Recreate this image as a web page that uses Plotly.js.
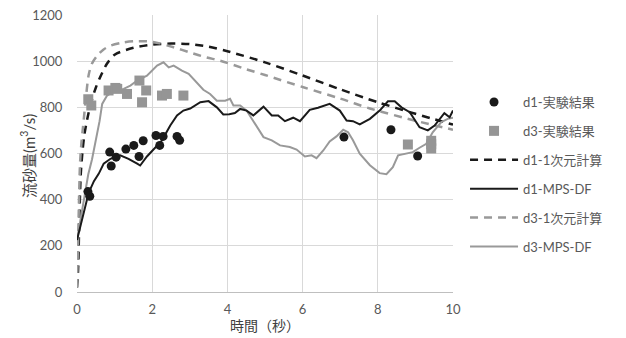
<!DOCTYPE html>
<html><head><meta charset="utf-8">
<script src="https://cdn.plot.ly/plotly-3.0.1.min.js"></script>
<style>html,body{margin:0;padding:0;background:#fff}#chart{width:626px;height:338px}</style>
</head><body><div id="chart"></div>
<script>
// Experimental results
const d1ExpT = [0.29,0.34,0.87,0.91,1.04,1.30,1.51,1.65,1.76,2.10,2.20,2.29,2.66,2.73,7.10,8.35,9.06];
const d1ExpV = [435,415,606,546,584,619,635,587,655,678,635,674,674,657,671,703,589];
const d3ExpT = [0.30,0.38,0.84,1.02,1.07,1.33,1.66,1.73,1.84,2.26,2.39,2.83,8.80,9.42,9.42,9.42];
const d3ExpV = [835,808,873,884,880,858,916,822,873,851,858,851,639,655,640,622];
// 1D calculations
const d1OneDT = [0,0.03,0.06,0.1,0.15,0.2,0.3,0.4,0.5,0.6,0.8,1.0,1.5,2.0,2.5,3.0,3.5,4.0,5.0,6.0,7.0,8.0,9.0,10.0];
const d1OneDV = [20,100,300,510,615,685,770,835,885,925,990,1028,1058,1072,1076,1074,1063,1043,995,938,878,822,772,725];
const d3OneDT = [0,0.04,0.08,0.12,0.16,0.23,0.31,0.4,0.54,0.7,0.89,1.2,1.51,1.86,2.2,2.57,3.0,3.45,3.81,4.5,5.0,6.02,7.0,7.79,9.0,10.0];
const d3OneDV = [20,300,555,650,715,829,940,990,1024,1050,1067,1080,1086,1086,1077,1060,1038,1016,1002,965,940,887,838,795,742,703];
// MPS-DF
const d1MpsT = [0,0.15,0.31,0.45,0.58,0.71,0.89,1.15,1.37,1.60,1.68,1.86,2.04,2.26,2.48,2.66,2.83,3.01,3.28,3.50,3.72,3.89,4.05,4.20,4.34,4.51,4.69,4.96,5.18,5.35,5.53,5.75,5.93,6.19,6.41,6.72,6.99,7.17,7.34,7.52,7.79,8.05,8.27,8.45,8.63,8.85,9.11,9.33,9.51,9.77,9.91,10.0];
const d1MpsV = [225,330,430,480,513,556,577,592,577,556,548,587,620,657,721,765,786,795,822,827,800,769,770,775,793,786,765,803,765,765,740,755,740,789,798,815,786,743,740,726,750,786,826,826,800,779,714,700,721,775,757,786];
const d3MpsT = [0,0.1,0.2,0.3,0.4,0.5,0.6,0.67,0.8,0.98,1.24,1.42,1.60,1.86,2.13,2.30,2.44,2.57,2.79,2.97,3.19,3.36,3.54,3.72,3.94,4.07,4.16,4.34,4.51,4.78,4.96,5.18,5.40,5.66,5.84,6.06,6.24,6.37,6.55,6.72,6.90,7.08,7.21,7.34,7.52,7.79,8.05,8.23,8.40,8.54,8.71,8.93,9.11,9.29,9.46,9.69,9.86,10.0];
const d3MpsV = [225,320,420,510,575,650,740,815,851,870,880,894,916,937,981,995,973,981,959,945,908,876,858,829,829,837,808,808,786,714,671,657,635,628,617,587,592,580,613,652,674,703,692,657,599,549,515,510,541,592,599,606,625,642,692,736,750,755];

const xTicks = [0,2,4,6,8,10];
const yTicks = [0,200,400,600,800,1000,1200];
const yTitle = '流砂量(m<sup>3</sup>/s)';
const xTitle = '時間（秒）';

const BLACK = '#1a1a1a', GRAY = '#999999';
const FONT = 'Lato, "Noto Sans CJK JP", sans-serif';

const traces = [
  {x:d1OneDT,y:d1OneDV,name:'d1-1次元計算',mode:'lines',line:{color:BLACK,width:2.5,dash:'8px,6px',shape:'spline',smoothing:0.8},legendrank:3,legendgroup:'c'},
  {x:d3OneDT,y:d3OneDV,name:'d3-1次元計算',mode:'lines',line:{color:GRAY,width:2.5,dash:'8px,6px',shape:'spline',smoothing:0.8},legendrank:5,legendgroup:'e'},
  {x:d3MpsT,y:d3MpsV,name:'d3-MPS-DF',mode:'lines',line:{color:GRAY,width:2},legendrank:6,legendgroup:'f'},
  {x:d1MpsT,y:d1MpsV,name:'d1-MPS-DF',mode:'lines',line:{color:BLACK,width:2},legendrank:4,legendgroup:'d'},
  {x:d3ExpT,y:d3ExpV,name:'d3-実験結果',mode:'markers',marker:{symbol:'square',color:'#959595',size:10},legendrank:2,legendgroup:'b'},
  {x:d1ExpT,y:d1ExpV,name:'d1-実験結果',mode:'markers',marker:{symbol:'circle',color:BLACK,size:9},legendrank:1,legendgroup:'a'}
];

const layout = {
  width:626, height:338,
  margin:{l:76.5,r:172.5,t:14.5,b:46},
  paper_bgcolor:'#fff', plot_bgcolor:'#fff',
  font:{family:FONT,size:13,color:'#595959'},
  showlegend:true,
  legend:{x:1.032,xanchor:'left',xref:'paper',y:0.74,yanchor:'top',itemwidth:48,tracegroupgap:9,
          font:{family:FONT,size:13,color:'#595959'},bgcolor:'rgba(0,0,0,0)'},
  xaxis:{range:[0,10],tickvals:xTicks,ticktext:xTicks.map(String),showgrid:true,gridcolor:'#d9d9d9',gridwidth:1,
         zeroline:false,showline:true,linecolor:'#bfbfbf',linewidth:1,
         ticks:'outside',ticklen:5,tickcolor:'rgba(0,0,0,0)',
         title:{text:xTitle,font:{family:FONT,size:14,color:'#404040'},standoff:1}},
  yaxis:{range:[0,1200],tickvals:yTicks,ticktext:yTicks.map(String),showgrid:true,gridcolor:'#d9d9d9',gridwidth:1,
         zeroline:false,showline:false,
         ticks:'outside',ticklen:11,tickcolor:'rgba(0,0,0,0)'},
  annotations:[{text:yTitle,textangle:-90,xref:'paper',yref:'paper',x:-0.131,y:0.49,xanchor:'center',yanchor:'middle',
                showarrow:false,font:{family:FONT,size:15,color:'#404040'}}]
};

Plotly.newPlot('chart', traces, layout, {displayModeBar:false, staticPlot:true});
</script>
</body></html>
